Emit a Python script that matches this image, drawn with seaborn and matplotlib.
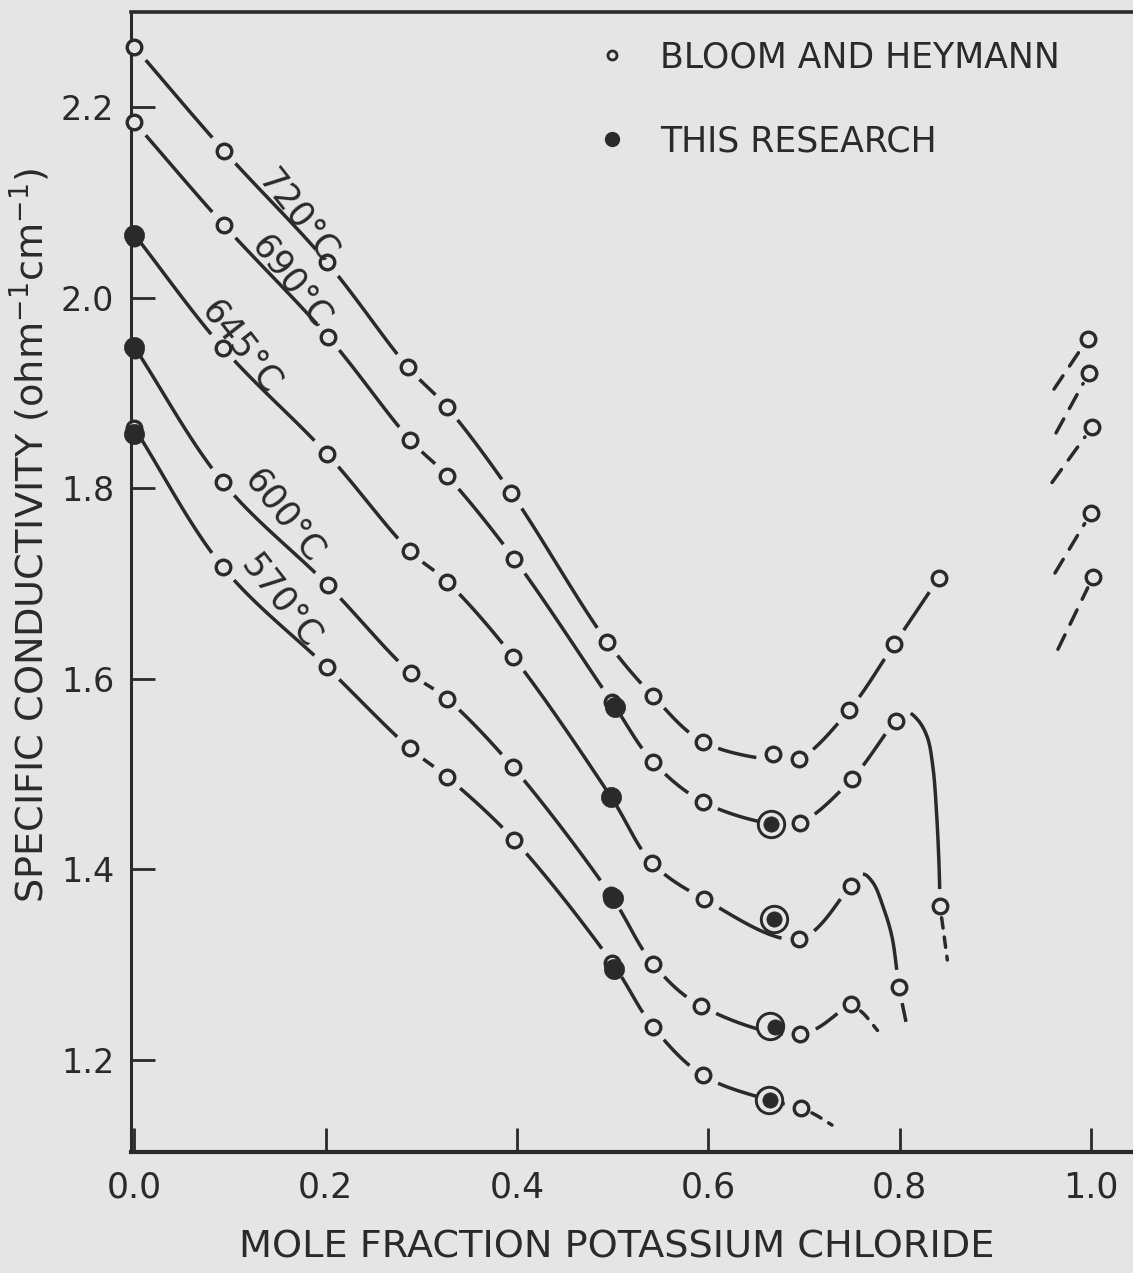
import numpy as np
import pandas as pd
import matplotlib
matplotlib.use("Agg")
import matplotlib.pyplot as plt
from matplotlib.lines import Line2D
import seaborn as sns

# ---------------- data ----------------
temps = ["720°C", "690°C", "645°C", "600°C", "570°C"]

# Bloom and Heymann (open circles)
bh_x_720 = [0.0, 0.0936, 0.2013, 0.286, 0.3268, 0.3941, 0.4941, 0.5422, 0.5943, 0.6678, 0.6949, 0.7472, 0.7943, 0.8413, 0.9971]
bh_y_720 = [2.263, 2.154, 2.037, 1.927, 1.885, 1.795, 1.639, 1.582, 1.534, 1.521, 1.516, 1.567, 1.636, 1.706, 1.957]
bh_x_690 = [0.0, 0.0936, 0.2024, 0.288, 0.3268, 0.397, 0.499, 0.5422, 0.5943, 0.696, 0.7503, 0.7963, 0.8423, 0.9981]
bh_y_690 = [2.184, 2.076, 1.959, 1.851, 1.813, 1.726, 1.576, 1.513, 1.471, 1.449, 1.495, 1.556, 1.362, 1.921]
bh_x_645 = [-0.001, 0.0926, 0.2013, 0.288, 0.3268, 0.396, 0.5412, 0.5954, 0.6949, 0.7493, 0.7995, 1.0013]
bh_y_645 = [2.063, 1.947, 1.836, 1.734, 1.702, 1.623, 1.407, 1.369, 1.327, 1.383, 1.277, 1.864]
bh_x_600 = [0.001, 0.0926, 0.2024, 0.289, 0.3268, 0.396, 0.498, 0.5422, 0.592, 0.696, 0.7493, 1.0003]
bh_y_600 = [1.945, 1.806, 1.698, 1.606, 1.579, 1.507, 1.373, 1.301, 1.257, 1.227, 1.259, 1.774]
bh_x_570 = [0.0, 0.0926, 0.2013, 0.288, 0.3268, 0.397, 0.4995, 0.5422, 0.5943, 0.697, 1.0024]
bh_y_570 = [1.863, 1.717, 1.612, 1.527, 1.497, 1.431, 1.302, 1.235, 1.184, 1.150, 1.707]

# This research (filled circles); the second group sits inside rings
tr_x = [0.5025, 0.0, 0.4983, 0.0, 0.5004, 0.0, 0.5014]
tr_y = [1.570, 2.066, 1.476, 1.948, 1.370, 1.857, 1.295]
tr_ring_x = [0.6657, 0.6688, 0.6698, 0.6650]
tr_ring_y = [1.448, 1.348, 1.235, 1.158]
# rings drawn around those filled points
ring_x = [0.6657, 0.6688, 0.6646, 0.6636]
ring_y = [1.448, 1.348, 1.236, 1.158]

# smooth curves as drawn (knots)
cv_x_720 = [0.0, 0.0936, 0.2013, 0.286, 0.3268, 0.3941, 0.4941, 0.5422, 0.5943, 0.6678, 0.6949, 0.7472, 0.7943, 0.8413]
cv_y_720 = [2.263, 2.154, 2.037, 1.927, 1.885, 1.795, 1.639, 1.582, 1.534, 1.515, 1.516, 1.567, 1.636, 1.706]
cv_x_690 = [0.0, 0.0936, 0.2024, 0.288, 0.3268, 0.397, 0.499, 0.5422, 0.5943, 0.6657, 0.696, 0.7503, 0.7963,
            0.808, 0.819, 0.829, 0.835, 0.839, 0.8415, 0.8423]
cv_y_690 = [2.184, 2.076, 1.959, 1.851, 1.813, 1.726, 1.576, 1.513, 1.471, 1.448, 1.449, 1.495, 1.556,
            1.565, 1.557, 1.539, 1.507, 1.455, 1.400, 1.362]
cv_x_645 = [0.0, 0.0926, 0.2013, 0.288, 0.3268, 0.396, 0.4983, 0.5412, 0.5954, 0.6949, 0.7493,
            0.7619, 0.7723, 0.7828, 0.7922, 0.7995, 0.8068]
cv_y_645 = [2.066, 1.947, 1.836, 1.734, 1.702, 1.623, 1.476, 1.407, 1.369, 1.327, 1.383,
            1.395, 1.386, 1.361, 1.329, 1.277, 1.240]
cv_x_600 = [0.0, 0.0926, 0.2024, 0.289, 0.3268, 0.396, 0.498, 0.5422, 0.592, 0.696, 0.7493]
cv_y_600 = [1.948, 1.806, 1.698, 1.606, 1.579, 1.507, 1.373, 1.301, 1.257, 1.227, 1.259]
cv_x_570 = [0.0, 0.0926, 0.2013, 0.288, 0.3268, 0.397, 0.4995, 0.5422, 0.5943, 0.6636, 0.697]
cv_y_570 = [1.863, 1.717, 1.612, 1.527, 1.497, 1.431, 1.302, 1.235, 1.184, 1.158, 1.150]

# dashed continuations
dash_690 = ([0.8423, 0.846, 0.850], [1.362, 1.335, 1.305])
dash_600 = ([0.7493, 0.762, 0.777], [1.259, 1.249, 1.231])
dash_570 = ([0.697, 0.713, 0.7294], [1.150, 1.142, 1.1317])
# dashed extrapolations toward pure KCl (lower end, point)
ext_x = [[0.9616, 0.9971], [0.9637, 0.9981], [0.9595, 1.0013], [0.9626, 1.0003], [0.9657, 1.0024]]
ext_y = [[1.904, 1.957], [1.858, 1.921], [1.806, 1.864], [1.711, 1.774], [1.631, 1.707]]

x_ticks = [0.0, 0.2, 0.4, 0.6, 0.8, 1.0]
x_ticklabels = ["0.0", "0.2", "0.4", "0.6", "0.8", "1.0"]
y_ticks = [1.2, 1.4, 1.6, 1.8, 2.0, 2.2]
y_ticklabels = ["1.2", "1.4", "1.6", "1.8", "2.0", "2.2"]

# ---------------- style ----------------
BG = "#e5e5e5"
INK = "#2a2a2a"
sns.set_theme(style="ticks", rc={"axes.facecolor": BG, "figure.facecolor": BG})
plt.rcParams["font.family"] = ["DejaVu Sans"]
plt.rcParams["mathtext.fontset"] = "dejavusans"

W, H = 1133, 1273
fig = plt.figure(figsize=(W / 100, H / 100), dpi=100)
ax = fig.add_axes([131 / W, 1 - 1152 / H, (W - 131) / W, (1152 - 12) / H])
ax.set_facecolor(BG)
ax.set_xlim(-0.00366, 1.04418)
ax.set_ylim(1.10346, 2.29968)

SX, SY = 956.25, 953.0   # approx. pixels per data unit
GAP = 16.5               # pixel radius of the break left around open circles


def smooth(xs, ys, n=80, alpha=0.5):
    P = np.column_stack([np.asarray(xs) * SX, np.asarray(ys) * SY])
    P = np.vstack([2 * P[0] - P[1], P, 2 * P[-1] - P[-2]])
    out = []
    for i in range(1, len(P) - 2):
        p0, p1, p2, p3 = P[i - 1], P[i], P[i + 1], P[i + 2]
        t0 = 0.0
        t1 = t0 + np.linalg.norm(p1 - p0) ** alpha
        t2 = t1 + np.linalg.norm(p2 - p1) ** alpha
        t3 = t2 + np.linalg.norm(p3 - p2) ** alpha
        t = np.linspace(t1, t2, n)[:, None]
        A1 = (t1 - t) / (t1 - t0) * p0 + (t - t0) / (t1 - t0) * p1
        A2 = (t2 - t) / (t2 - t1) * p1 + (t - t1) / (t2 - t1) * p2
        A3 = (t3 - t) / (t3 - t2) * p2 + (t - t2) / (t3 - t2) * p3
        B1 = (t2 - t) / (t2 - t0) * A1 + (t - t0) / (t2 - t0) * A2
        B2 = (t3 - t) / (t3 - t1) * A2 + (t - t1) / (t3 - t1) * A3
        C = (t2 - t) / (t2 - t1) * B1 + (t - t1) / (t2 - t1) * B2
        out.append(C if i == 1 else C[1:])
    pts = np.vstack(out)
    return pts[:, 0] / SX, pts[:, 1] / SY


def straight(xs, ys, n=120):
    t = np.linspace(0, 1, n)
    return xs[0] + (xs[1] - xs[0]) * t, ys[0] + (ys[1] - ys[0]) * t


def split_gaps(sx, sy, mx, my, rad=GAP):
    """Return the runs of the drawn path that lie outside the circles' break radius."""
    keep = np.ones(len(sx), bool)
    for px, py in zip(mx, my):
        d = np.hypot((sx - px) * SX, (sy - py) * SY)
        keep &= d > rad
    runs, cur = [], []
    for i, k in enumerate(keep):
        if k:
            cur.append(i)
        elif cur:
            runs.append(cur)
            cur = []
    if cur:
        runs.append(cur)
    return [(sx[np.array(c)], sy[np.array(c)]) for c in runs if len(c) > 1]


LW = 2.5
curves = [(cv_x_720, cv_y_720), (cv_x_690, cv_y_690), (cv_x_645, cv_y_645),
          (cv_x_600, cv_y_600), (cv_x_570, cv_y_570)]
open_pts = [(bh_x_720[:-1], bh_y_720[:-1]), (bh_x_690[:-1], bh_y_690[:-1]),
            (bh_x_645[1:-1], bh_y_645[1:-1]), (bh_x_600[1:-1], bh_y_600[1:-1]),
            (bh_x_570[1:-1], bh_y_570[1:-1])]
ends = [(bh_x_720[-1], bh_y_720[-1]), (bh_x_690[-1], bh_y_690[-1]), (bh_x_645[-1], bh_y_645[-1]),
        (bh_x_600[-1], bh_y_600[-1]), (bh_x_570[-1], bh_y_570[-1])]

for (cx, cy), (mx, my) in zip(curves, open_pts):
    sx, sy = smooth(cx, cy)
    for gx, gy in split_gaps(sx, sy, mx, my):
        sns.lineplot(x=gx, y=gy, estimator=None, sort=False, color=INK, lw=LW, ax=ax,
                     solid_capstyle="butt")

# dashed tails
tails = [(dash_690, open_pts[1]), (dash_600, open_pts[3]), (dash_570, open_pts[4])]
for (dx, dy), (mx, my) in tails:
    sx, sy = smooth(dx, dy, n=60)
    for gx, gy in split_gaps(sx, sy, mx, my, rad=12):
        ax.plot(gx, gy, color=INK, lw=LW, ls=(0, (3.0, 2.6)), dash_capstyle="round")
# dashed extrapolations near x = 1
for (ex, ey), (pxe, pye) in zip(zip(ext_x, ext_y), ends):
    sx, sy = straight(ex, ey)
    for gx, gy in split_gaps(sx, sy, [pxe], [pye], rad=12):
        ax.plot(gx, gy, color=INK, lw=LW, ls=(0, (4.6, 3.4)), dash_capstyle="round")

# open circles (Bloom and Heymann)
all_bh_x = bh_x_720 + bh_x_690 + bh_x_645 + bh_x_600 + bh_x_570
all_bh_y = bh_y_720 + bh_y_690 + bh_y_645 + bh_y_600 + bh_y_570
sns.scatterplot(x=all_bh_x, y=all_bh_y, s=10.5 ** 2, color=BG, edgecolor=INK, linewidth=2.4,
                ax=ax, clip_on=False, legend=False, zorder=4)

# rings around ringed filled points
sns.scatterplot(x=ring_x, y=ring_y, s=19 ** 2, color=BG, edgecolor=INK, linewidth=2.1,
                ax=ax, clip_on=False, legend=False, zorder=5)

# filled circles (this research)
sns.scatterplot(x=tr_x, y=tr_y, s=14.5 ** 2, color=INK, edgecolor=INK, linewidth=0.5,
                ax=ax, clip_on=False, legend=False, zorder=6)
sns.scatterplot(x=tr_ring_x, y=tr_ring_y, s=11 ** 2, color=INK, edgecolor=INK, linewidth=0.5,
                ax=ax, clip_on=False, legend=False, zorder=6)

# temperature labels along the curves
label_pos = [(0.171, 2.086), (0.164, 2.016), (0.112, 1.948), (0.156, 1.771), (0.153, 1.682)]
for txt, (lx, ly) in zip(temps, label_pos):
    ax.text(lx, ly, txt, rotation=-52, rotation_mode="anchor", ha="center", va="center",
            fontsize=25, color=INK, zorder=7)

# axes styling
for side in ["left", "bottom", "top"]:
    ax.spines[side].set_color(INK)
ax.spines["left"].set_linewidth(2.2)
ax.spines["bottom"].set_linewidth(3.0)
ax.spines["top"].set_linewidth(2.6)
ax.spines["right"].set_visible(False)

ax.set_xticks(x_ticks)
ax.set_xticklabels(x_ticklabels)
ax.set_yticks(y_ticks)
ax.set_yticklabels(y_ticklabels)
ax.tick_params(axis="both", direction="in", length=17, width=2.0, color=INK, labelcolor=INK)
ax.tick_params(axis="x", labelsize=25, pad=13)
ax.tick_params(axis="y", labelsize=24, pad=12)
ax.grid(False)

ax.set_xlabel("MOLE FRACTION POTASSIUM CHLORIDE", fontsize=27.5, color=INK)
ax.xaxis.set_label_coords(0.485, -0.068)
ax.set_ylabel("SPECIFIC CONDUCTIVITY (ohm$^{-1}$cm$^{-1}$)", fontsize=27.5, color=INK)
ax.yaxis.set_label_coords(-0.079, 0.541)

handles = [
    Line2D([], [], marker="o", ls="none", mfc=BG, mec=INK, ms=6.5, mew=2.0),
    Line2D([], [], marker="o", ls="none", mfc=INK, mec=INK, ms=10),
]
fs = 25 * 100 / 72
leg = ax.legend(handles, ["BLOOM AND HEYMANN", "THIS RESEARCH"], loc="upper left",
                bbox_to_anchor=(594.6 / W, 1 - 40 / H), bbox_transform=fig.transFigure,
                frameon=False, fontsize=25, handlelength=1.0, handletextpad=30.7 / fs,
                labelspacing=1.45, borderpad=0, borderaxespad=0, labelcolor=INK)

fig.savefig("out.png", dpi=100, facecolor=BG)
